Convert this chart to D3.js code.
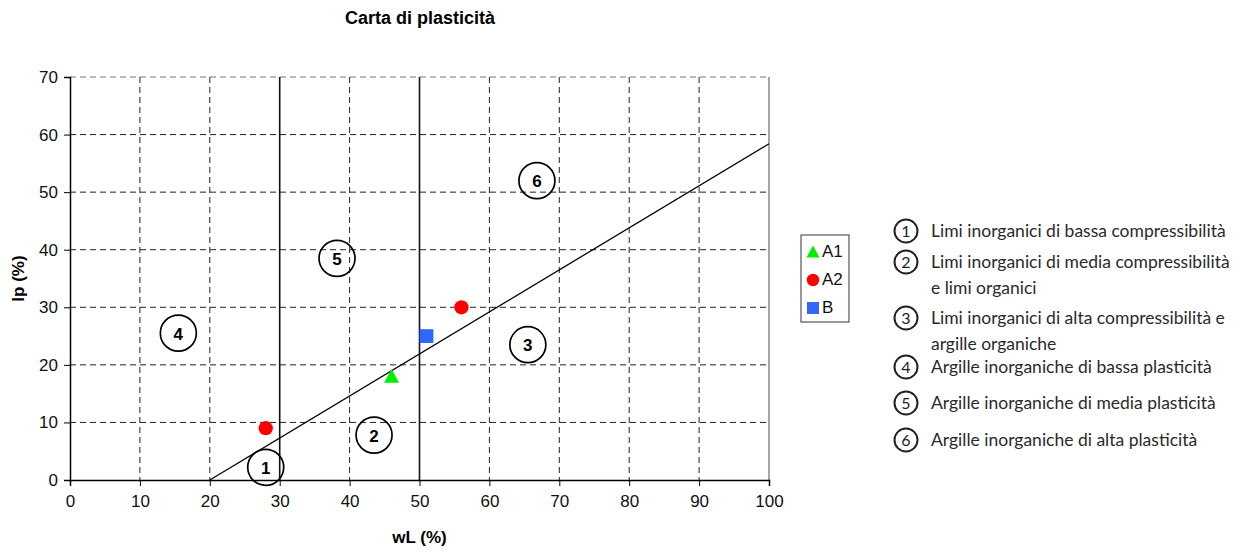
<!DOCTYPE html>
<html>
<head>
<meta charset="utf-8">
<script src="https://cdn.jsdelivr.net/npm/d3@7"></script>
<style>
  body { margin: 0; background: #fff; }
  text { font-family: "Liberation Sans", Arial, sans-serif; }
</style>
</head>
<body>
<div id="viz"></div>
<script>
// chart values
const xTicks = [0, 10, 20, 30, 40, 50, 60, 70, 80, 90, 100];
const yTicks = [0, 10, 20, 30, 40, 50, 60, 70];
const liquidLimits = [30, 50];           // solid vertical boundaries
const aLineWL = [20, 100];
const aLineIp = [0, 58.4];               // Ip = 0.73 (wL - 20)

const seriesNames = ["A1", "A2", "B"];
const seriesColors = ["#00ee00", "#ff0000", "#3366ff"];
const seriesShapes = ["triangle", "circle", "square"];
const seriesWL = [[46], [28, 56], [51]];
const seriesIp = [[18], [9, 30], [25]];

const zoneIds = [1, 2, 3, 4, 5, 6];
const zoneWL = [28, 43.5, 65.5, 15.5, 38.2, 66.8];
const zoneIp = [2.2, 7.8, 23.5, 25.5, 38.5, 52];
const zoneText = [
  ["Limi inorganici di bassa compressibilità"],
  ["Limi inorganici di media compressibilità", "e limi organici"],
  ["Limi inorganici di alta compressibilità e", "argille organiche"],
  ["Argille inorganiche di bassa plasticità"],
  ["Argille inorganiche di media plasticità"],
  ["Argille inorganiche di alta plasticità"]
];

const W = 1249, H = 552;
const margin = {top: 77, right: 480, bottom: 72, left: 70};
const width = W - margin.left - margin.right,
      height = H - margin.top - margin.bottom;

const svg = d3.select("#viz").append("svg")
    .attr("width", W)
    .attr("height", H);

const g = svg.append("g")
    .attr("transform", `translate(${margin.left},${margin.top})`);

const x = d3.scaleLinear().domain([0, 100]).range([0, width]);
const y = d3.scaleLinear().domain([0, 70]).range([height, 0]);

// grid
g.append("g").selectAll("line")
    .data(yTicks.slice(1))
    .enter().append("line")
      .attr("x1", 0).attr("x2", width)
      .attr("y1", d => y(d)).attr("y2", d => y(d))
      .attr("stroke", d => d == 70 ? "#777" : "#222")
      .attr("stroke-dasharray", "6,4");
g.append("g").selectAll("line")
    .data(xTicks.filter(d => d > 0 && d < 100 && liquidLimits.indexOf(d) < 0))
    .enter().append("line")
      .attr("x1", d => x(d)).attr("x2", d => x(d))
      .attr("y1", 0).attr("y2", height)
      .attr("stroke", "#222")
      .attr("stroke-dasharray", "6,4");

// right border
g.append("line")
    .attr("x1", width).attr("x2", width)
    .attr("y1", 0).attr("y2", height)
    .attr("stroke", "#888").attr("stroke-width", 1.5);

// liquid limit boundaries
g.append("g").selectAll("line")
    .data(liquidLimits)
    .enter().append("line")
      .attr("x1", d => x(d)).attr("x2", d => x(d))
      .attr("y1", 0).attr("y2", height)
      .attr("stroke", "#111").attr("stroke-width", 1.6);

// A-line
g.append("line")
    .attr("x1", x(aLineWL[0])).attr("y1", y(aLineIp[0]))
    .attr("x2", x(aLineWL[1])).attr("y2", y(aLineIp[1]))
    .attr("stroke", "#000").attr("stroke-width", 1.3);

// axes
const xAxis = g.append("g")
    .attr("transform", `translate(0,${height})`)
    .call(d3.axisBottom(x).tickValues(xTicks).tickSize(6).tickPadding(9));
const yAxis = g.append("g")
    .call(d3.axisLeft(y).tickValues(yTicks).tickSize(6).tickPadding(6));
[xAxis, yAxis].forEach(a => {
    a.attr("font-size", null).attr("font-family", null);
    a.select(".domain").attr("stroke", "#000").attr("stroke-width", 1.5);
    a.selectAll(".tick line").attr("stroke", "#000");
    a.selectAll("text")
        .style("font-family", "'Liberation Sans', Arial, sans-serif")
        .style("font-size", "17px")
        .attr("fill", "#111");
});

// zone markers
const zones = g.append("g").selectAll("g")
    .data(zoneIds)
    .enter().append("g")
      .attr("transform", (d, i) => `translate(${x(zoneWL[i])},${y(zoneIp[i])})`);
zones.append("circle")
    .attr("r", 18)
    .attr("fill", "none")
    .attr("stroke", "#000")
    .attr("stroke-width", 1.7);
zones.append("text")
    .attr("y", 6.5)
    .attr("text-anchor", "middle")
    .style("font-size", "17px")
    .style("font-weight", "bold")
    .text(d => d);

// marker drawing
function drawMarker(sel, shape, color, size) {
    if (shape == "circle") {
        sel.append("circle").attr("r", size * 0.62).attr("fill", color);
    } else if (shape == "square") {
        sel.append("rect")
            .attr("x", -size * 0.6).attr("y", -size * 0.6)
            .attr("width", size * 1.2).attr("height", size * 1.2)
            .attr("fill", color);
    } else {
        sel.append("path")
            .attr("d", `M0,${-size * 0.65}L${size * 0.65},${size * 0.55}L${-size * 0.65},${size * 0.55}Z`)
            .attr("fill", color);
    }
}

// data points
seriesNames.forEach(function(name, s) {
    seriesWL[s].forEach(function(wl, j) {
        const pt = g.append("g")
            .attr("transform", `translate(${x(wl)},${y(seriesIp[s][j])})`);
        drawMarker(pt, seriesShapes[s], seriesColors[s], 11.5);
    });
});

// title and axis labels
svg.append("text")
    .attr("x", 420).attr("y", 24)
    .attr("text-anchor", "middle")
    .style("font-size", "18px").style("font-weight", "bold")
    .text("Carta di plasticità");
svg.append("text")
    .attr("x", margin.left + width / 2).attr("y", 543)
    .attr("text-anchor", "middle")
    .style("font-size", "17px").style("font-weight", "bold")
    .text("wL (%)");
svg.append("text")
    .attr("transform", `translate(24,${margin.top + height / 2}) rotate(-90)`)
    .attr("text-anchor", "middle")
    .style("font-size", "17px").style("font-weight", "bold")
    .text("Ip (%)");

// series legend
const leg = svg.append("g").attr("transform", "translate(801,235)");
leg.append("rect")
    .attr("width", 48).attr("height", 87)
    .attr("fill", "#fff").attr("stroke", "#555").attr("stroke-width", 1.2);
seriesNames.forEach(function(name, s) {
    const row = leg.append("g").attr("transform", `translate(12,${17 + s * 28})`);
    drawMarker(row, seriesShapes[s], seriesColors[s], 10);
    row.append("text")
        .attr("x", 9).attr("y", 5)
        .style("font-size", "17px")
        .attr("fill", "#111")
        .text(name);
});

// zone description list
const rowY = [231, 262, 318, 367, 403, 440];
const desc = svg.append("g");
zoneIds.forEach(function(id, i) {
    const row = desc.append("g").attr("transform", `translate(906,${rowY[i]})`);
    row.append("circle")
        .attr("r", 11.5).attr("fill", "none")
        .attr("stroke", "#222").attr("stroke-width", 2);
    row.append("text")
        .attr("y", 6).attr("text-anchor", "middle")
        .style("font-family", "Lato, 'Open Sans', sans-serif")
        .style("font-size", "16px").attr("fill", "#222")
        .text(id);
    row.selectAll("text.desc")
        .data(zoneText[i])
        .enter().append("text")
          .attr("class", "desc")
          .attr("x", 25).attr("y", (d, k) => 6 + k * 26)
          .style("font-family", "Lato, 'Open Sans', sans-serif")
          .style("font-size", "17.5px").attr("fill", "#2a2a2a")
          .text(d => d);
});
</script>
</body>
</html>
